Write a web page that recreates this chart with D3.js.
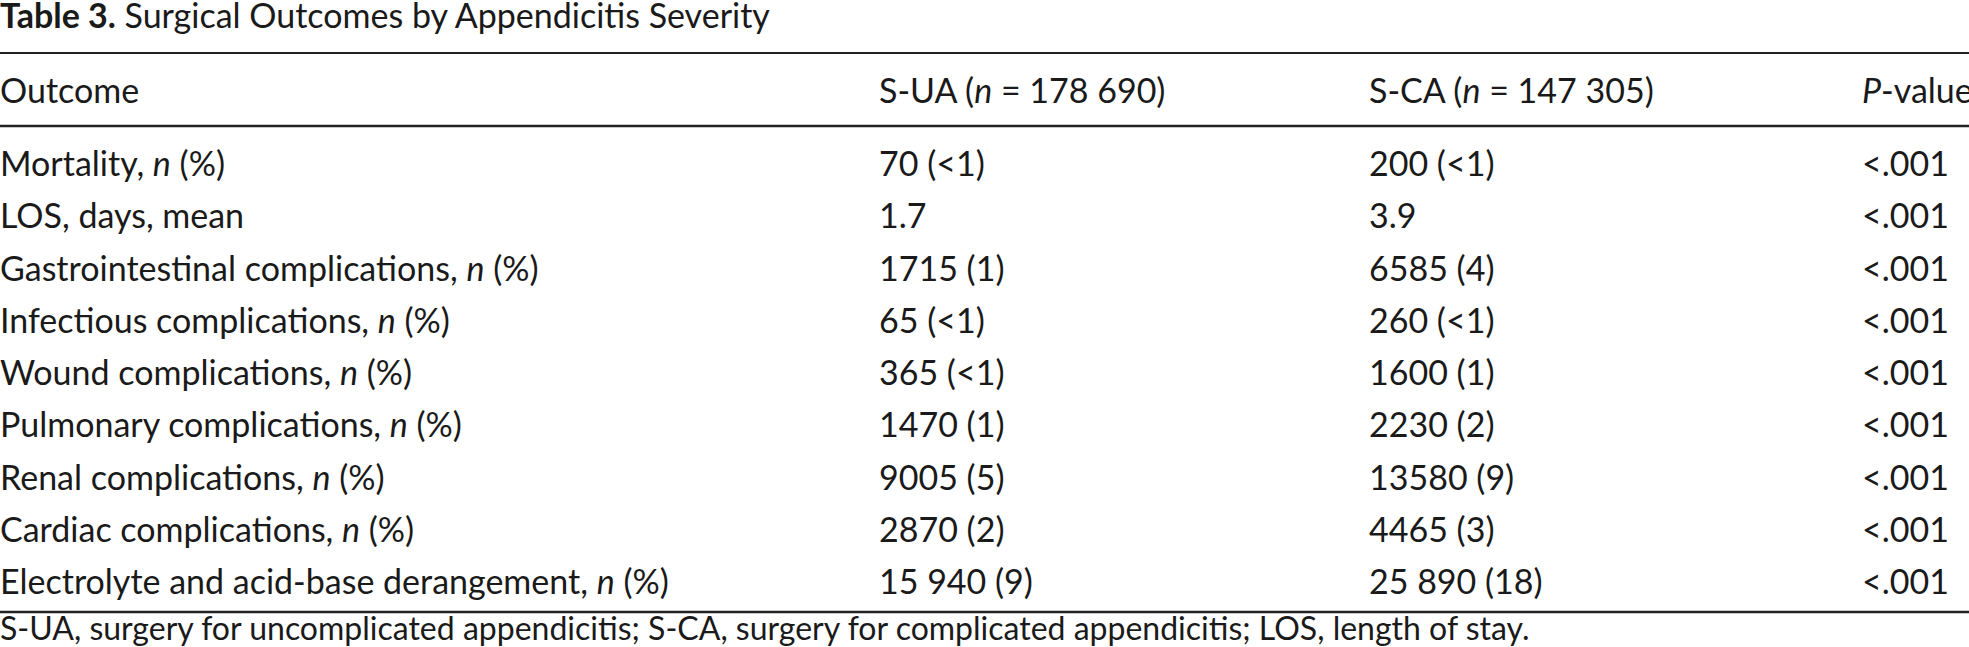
<!DOCTYPE html>
<html><head><meta charset="utf-8">
<script src="https://cdn.jsdelivr.net/npm/d3@7"></script>
<style>body{margin:0;background:#fff}text{font-family:Lato,"Open Sans",sans-serif;fill:#1a1a1a}</style>
</head><body><svg id="c" width="1969" height="647"></svg>
<script>
const headers=["Outcome","S-UA (n = 178 690)","S-CA (n = 147 305)","P-value"];
const outcomes=["Mortality, n (%)","LOS, days, mean","Gastrointestinal complications, n (%)","Infectious complications, n (%)","Wound complications, n (%)","Pulmonary complications, n (%)","Renal complications, n (%)","Cardiac complications, n (%)","Electrolyte and acid-base derangement, n (%)"];
const sua=["70 (<1)","1.7","1715 (1)","65 (<1)","365 (<1)","1470 (1)","9005 (5)","2870 (2)","15 940 (9)"];
const sca=["200 (<1)","3.9","6585 (4)","260 (<1)","1600 (1)","2230 (2)","13580 (9)","4465 (3)","25 890 (18)"];
const pvals=Array(9).fill("<.001");
const footnote="S-UA, surgery for uncomplicated appendicitis; S-CA, surgery for complicated appendicitis; LOS, length of stay.";

const svg=d3.select("#c");
const fs=34;
const colX=[0,879,1369,1862];
const y=d3.scaleLinear().domain([0,8]).range([176,594]);

const t=svg.append("text").attr("x",0).attr("y",28).attr("font-size",fs);
t.append("tspan").attr("font-weight","bold").text("Table 3.");
t.append("tspan").text("  Surgical Outcomes by Appendicitis Severity");

function rule(yy,w){svg.append("line").attr("x1",0).attr("x2",1969).attr("y1",yy).attr("y2",yy).attr("stroke","#222").attr("stroke-width",w);}
rule(53,2);rule(126,2.5);rule(612,2.5);

function rich(sel,str,header){
  const re=header?/(\bn\b|^P)/:/(\bn\b)/;
  str.split(re).forEach(p=>{if(!p)return;const ts=sel.append("tspan").text(p);if(p==="n"||(header&&p==="P"))ts.attr("font-style","italic");});
}
headers.forEach((h,i)=>{rich(svg.append("text").attr("x",colX[i]).attr("y",103).attr("font-size",fs),h,true);});

const cols=[outcomes,sua,sca,pvals];
cols.forEach((arr,ci)=>{
  svg.selectAll(null).data(arr).enter().append("text")
    .attr("x",colX[ci]).attr("y",(d,i)=>y(i)).attr("font-size",fs)
    .each(function(d){rich(d3.select(this),d,false);});
});
svg.append("text").attr("x",0).attr("y",640).attr("font-size",fs-2).text(footnote);
</script></body></html>
